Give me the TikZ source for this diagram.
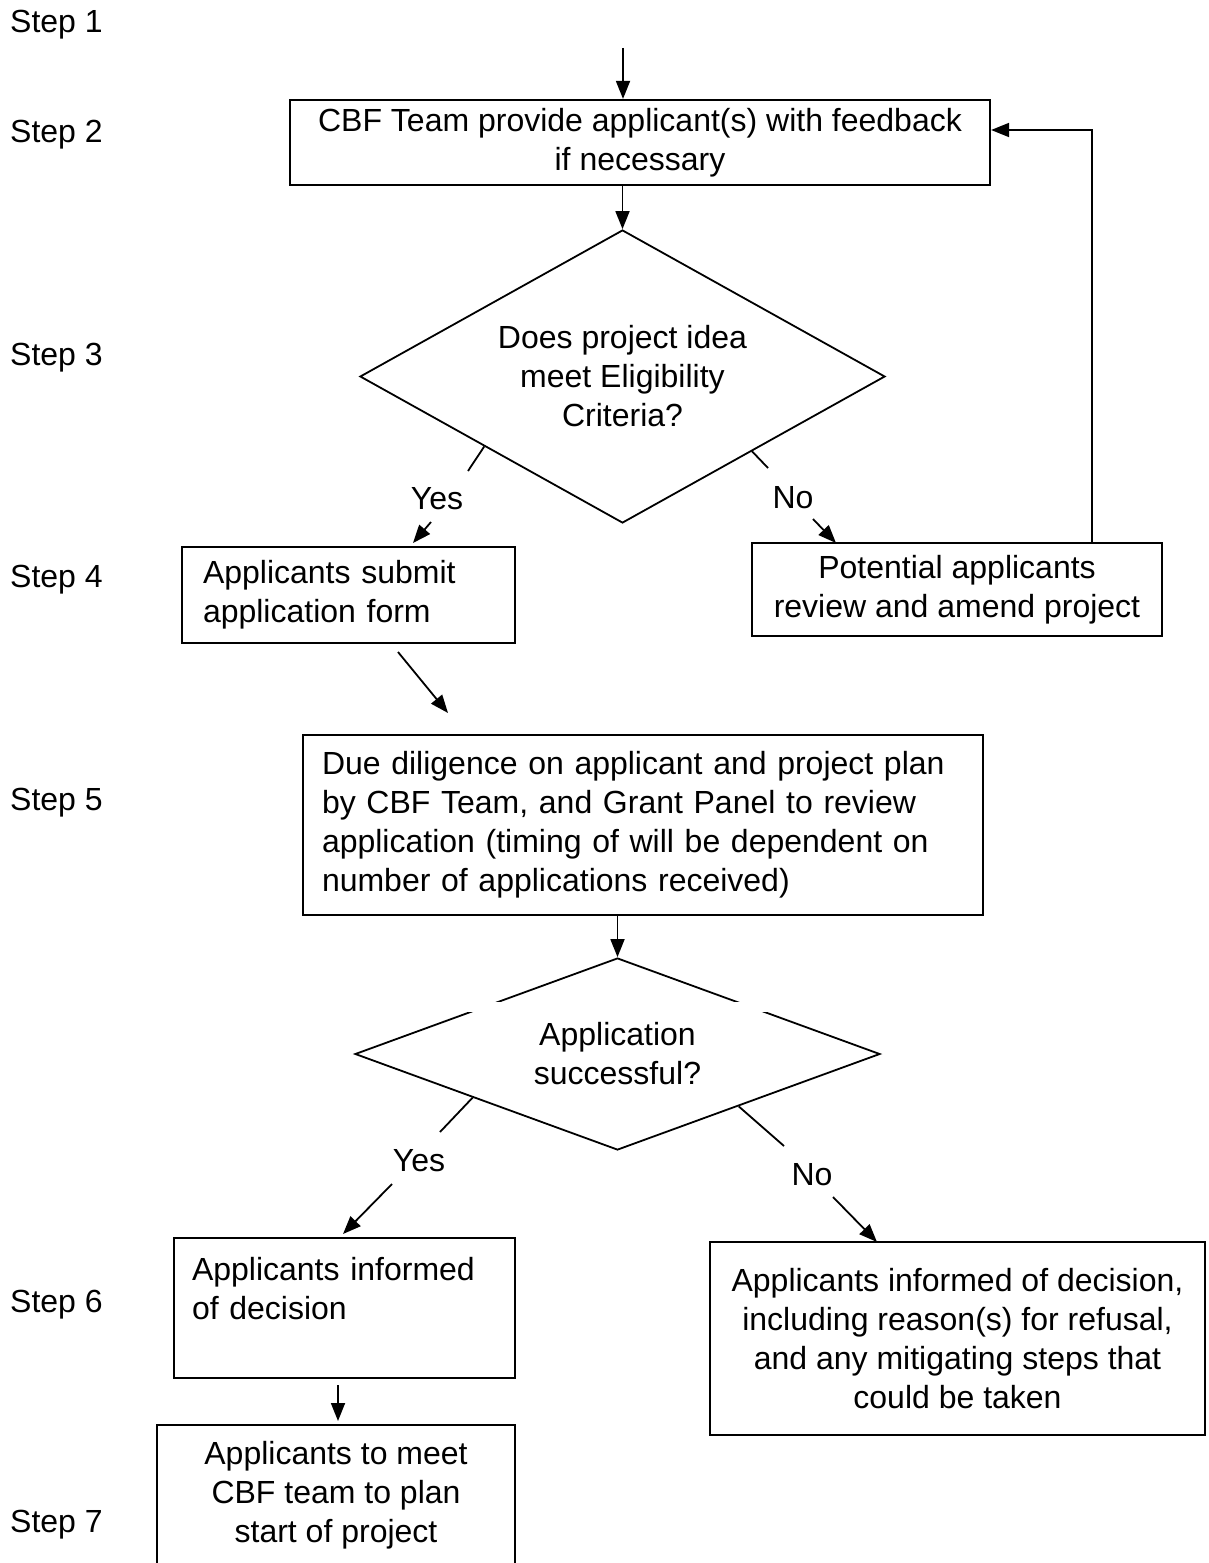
\documentclass[tikz,border=0pt]{standalone}
\usepackage{fontspec}
\setmainfont{Liberation Sans}
\usepackage{tikz}
\usetikzlibrary{arrows.meta,shapes.geometric,calc}

\begin{document}
\begin{tikzpicture}[x=1pt, y=-1pt, >={Triangle[length=18pt,width=14pt]},
    font=\fontsize{32}{39}\selectfont,
    box/.style={draw, line width=2.2pt, inner sep=0pt},
    rhomb/.style={draw, diamond, line width=1.8pt, inner sep=0pt, aspect=2, align=center},
    link/.style={line width=1.8pt}]

    \useasboundingbox (0,0) rectangle (1208,1563);

    % Шаги
    \foreach \n/\y in {1/25, 2/135, 3/358, 4/580, 5/803, 6/1305, 7/1525}
        \node[anchor=west, inner sep=0pt] (step\n) at (10,\y) {Step \n};

    % Блоки
    \node[box, minimum width=700pt, minimum height=85pt, align=center] (feed) at (640,142.5)
        {CBF Team provide applicant(s) with feedback\\if necessary};
    \node[rhomb, minimum width=525pt, minimum height=293pt] (elig) at (622.5,376.5)
        {Does project idea\\meet Eligibility\\Criteria?};
    \node[box, inner xsep=21pt, text width=291pt, minimum height=96pt, align=left] (sub) at (348.5,595)
        {Applicants submit\\application form};
    \node[box, minimum width=410pt, minimum height=93pt, align=center] (amend) at (957,589.5)
        {Potential applicants\\review and amend project};
    \node[box, inner xsep=19pt, text width=642pt, minimum height=180pt, align=left] (dd) at (643,825)
        {Due diligence on applicant and project plan\\by CBF Team, and Grant Panel to review\\application (timing of will be dependent on\\number of applications received)};
    \node[rhomb, minimum width=525pt, minimum height=192pt] (succ) at (617.5,1054)
        {Application\\successful?};
    \fill[white] (465,1002) rectangle (770,1012);
    \node[box, inner xsep=18pt, text width=305pt, minimum height=140pt, align=left] (yesinf) at (344.5,1308)
        {Applicants informed\\of decision\\~};
    \node[box, minimum width=495pt, minimum height=193pt, align=center] (noinf) at (957.5,1338.5)
        {Applicants informed of decision,\\including reason(s) for refusal,\\and any mitigating steps that\\could be taken};
    \node[box, minimum width=358pt, minimum height=141pt, align=center] (meet) at (336,1495.5)
        {Applicants to meet\\CBF team to plan\\start of project};

    % Подписи
    \node (yes1) at (437,499) {Yes};
    \node (no1) at (793,498) {No};
    \node (yes2) at (419,1161) {Yes};
    \node (no2) at (812,1175) {No};

    % Концы стрелок
    \coordinate (top) at (623,48);
    \coordinate (yes1a) at (468,471);
    \coordinate (yes1b) at (431,522);
    \coordinate (yes1c) at (413,543);
    \coordinate (no1a) at (768,468);
    \coordinate (no1b) at (813,519);
    \coordinate (no1c) at (836,543);
    \coordinate (ddA) at (398,652);
    \coordinate (ddB) at (448,713);
    \coordinate (yes2a) at (440,1132);
    \coordinate (yes2b) at (392,1184);
    \coordinate (yes2c) at (343,1234);
    \coordinate (no2a) at (784,1146);
    \coordinate (no2b) at (833,1197);
    \coordinate (no2c) at (877,1242);
    \coordinate (meetA) at (338,1385);
    \coordinate (meetB) at (338,1421);

    % Стрелки
    \draw[link,->] (top) -- (top |- feed.north);
    \draw[link,->] (elig.north |- feed.south) -- (elig.north);
    \draw[link] ($(elig.west)!0.475!(elig.south)$) -- (yes1a);
    \draw[link,->] (yes1b) -- (yes1c);
    \draw[link] ($(elig.east)!0.508!(elig.south)$) -- (no1a);
    \draw[link,->] (no1b) -- (no1c);
    \draw[link,->] ([xshift=135pt]amend.north) |- ([yshift=12.5pt]feed.east);
    \draw[link,->] (ddA) -- (ddB);
    \draw[link,->] (succ.north |- dd.south) -- (succ.north);
    \draw[link] ($(succ.west)!0.45!(succ.south)$) -- (yes2a);
    \draw[link,->] (yes2b) -- (yes2c);
    \draw[link] ($(succ.east)!0.54!(succ.south)$) -- (no2a);
    \draw[link,->] (no2b) -- (no2c);
    \draw[link,->] (meetA) -- (meetB);

\end{tikzpicture}
\end{document}
